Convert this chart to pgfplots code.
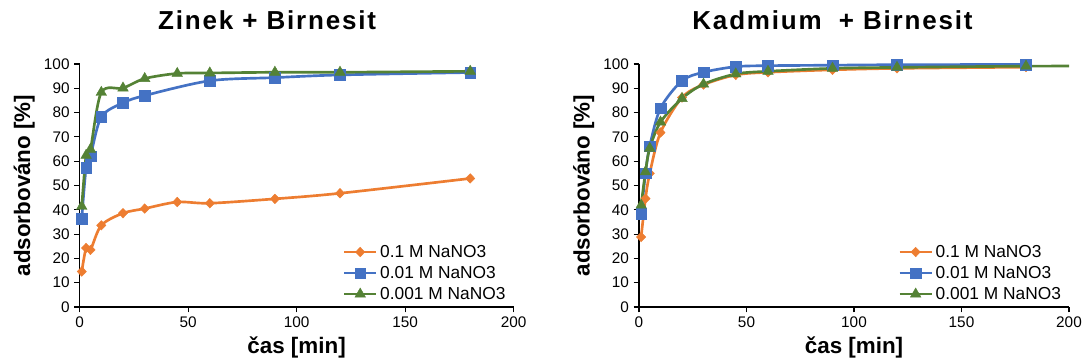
\documentclass[border=0pt]{standalone}
\usepackage{fontspec}
\setmainfont{Liberation Sans}
\usepackage{pgfplots}
\pgfplotsset{compat=1.18}

\definecolor{cOr}{HTML}{ED7D31}
\definecolor{cBl}{HTML}{4472C4}
\definecolor{cGr}{HTML}{548235}

\pgfplotsset{
 myax/.style={
  scale only axis, width=325.5pt, height=182.25pt,
  xmin=0,xmax=200,ymin=0,ymax=100,
  xtick={0,50,...,200}, ytick={0,10,...,100},
  axis x line*=bottom, axis y line*=left,
  axis line style={line width=0.8pt, black},
  tick align=outside, major tick length=4pt,
  tick style={line width=0.8pt, black},
  /pgf/number format/assume math mode=true,
  ticklabel style={font=\fontsize{11.5}{13}\selectfont},
  label style={font=\bfseries\fontsize{16.8}{19}\selectfont},
  xlabel={čas [min]}, ylabel={adsorbováno [\%]},
  title style={font=\bfseries\fontsize{19.5}{22}\selectfont\addfontfeature{LetterSpace=7}, anchor=center, yshift=26.5pt},
  legend style={at={(axis description cs:0.988,0.012)}, anchor=south east, draw=none, fill=none,
     font=\fontsize{13}{15}\selectfont, row sep=1.2pt, inner sep=0pt},
  legend cell align=left,
  legend image code/.code={\draw[##1, mark indices={2}] plot coordinates {(0pt,0pt) (12pt,0pt) (24pt,0pt)};},
  every axis plot/.append style={line width=2pt, smooth, tension=0.5},
 },
 sOr/.style={color=cOr, mark=diamond*, mark size=3.6pt, mark options={solid, fill=cOr, draw=cOr, line width=0.3pt, xscale=1.3}},
 sBl/.style={color=cBl, mark=square*, mark size=4pt, mark options={solid, fill=cBl, draw=cBl, line width=0.3pt}},
 sGr/.style={color=cGr, mark=triangle*, mark size=4.6pt, mark options={solid, fill=cGr, draw=cGr, line width=0.3pt}},
}

\begin{document}
\begin{tikzpicture}
\path[use as bounding box] (0,0) rectangle (813pt,272.25pt);

\begin{axis}[myax, at={(59.7pt,42pt)}, anchor=south west,
  title={Zinek + Birnesit}, title style={at={(axis description cs:0.432,1)}}]
\addplot[sOr] coordinates {(1,14.6)(3,24.3)(5,23.5)(10,33.6)(20,38.6)(30,40.5)(45,43.2)(60,42.7)(90,44.5)(120,46.8)(180,52.9)};
\addlegendentry{0.1 M NaNO3}
\addplot[sBl] coordinates {(1,36.4)(3,57.3)(5,62.1)(10,78.2)(20,84.0)(30,87.0)(60,93.1)(90,94.4)(120,95.5)(180,96.5)};
\addlegendentry{0.01 M NaNO3}
\addplot[sGr] coordinates {(1,41.4)(3,62.4)(5,64.9)(10,88.3)(20,90.1)(30,94.0)(45,96.1)(60,96.3)(90,96.6)(120,96.6)(180,97.0)};
\addlegendentry{0.001 M NaNO3}
\end{axis}

\begin{axis}[myax, at={(479.25pt,42pt)}, anchor=south west, width=322.5pt,
  title={Kadmium\hspace{6pt} + Birnesit}, title style={at={(axis description cs:0.45,1)}}]
\addplot[sOr] coordinates {(1,28.8)(3,44.6)(5,55.0)(10,71.8)(20,86.2)(30,91.5)(45,95.5)(60,96.6)(90,97.6)(120,98.2)(180,98.7)};
\addlegendentry{0.1 M NaNO3}
\addplot[sBl] coordinates {(1,38.3)(3,55.0)(5,66.2)(10,81.8)(20,93.1)(30,96.6)(45,98.9)(60,99.3)(90,99.5)(120,99.7)(180,99.8)};
\addlegendentry{0.01 M NaNO3}
\addplot[sGr, mark indices={1,...,11}] coordinates {(1,41.9)(3,55.6)(5,65.3)(10,76.1)(20,85.8)(30,91.7)(45,95.9)(60,97.0)(90,98.2)(120,98.6)(180,99.1)(240,99.2)};
\addlegendentry{0.001 M NaNO3}
\end{axis}
\end{tikzpicture}
\end{document}
